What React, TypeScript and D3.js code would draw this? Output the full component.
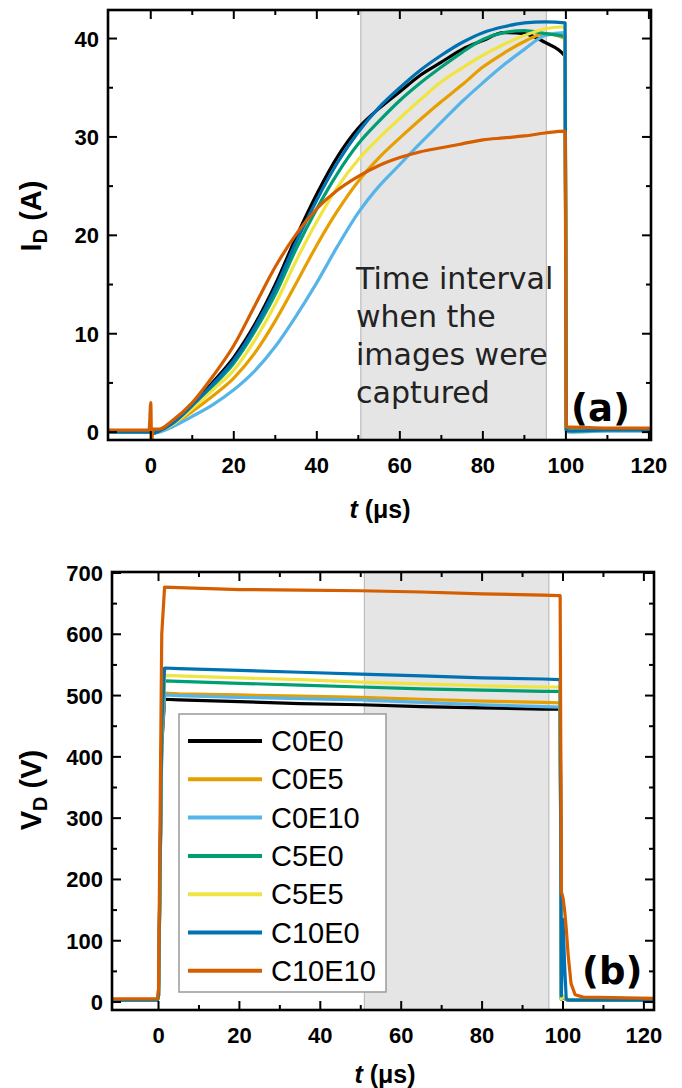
import React from 'react';
import * as d3 from 'd3';

// ---------- data ----------
const seriesNames = ['C0E0', 'C0E5', 'C0E10', 'C5E0', 'C5E5', 'C10E0', 'C10E10'];
const seriesColors = ['#000000', '#E69F00', '#56B4E9', '#009E73', '#F0E442', '#0072B2', '#D55E00'];

// drain current I_D (A)
const tCurrent = [-10.3, -5, -0.4, 0, 0.2, 0.5, 2, 5, 10, 15, 20, 25, 30, 35, 40, 45, 50, 55, 60, 65, 70, 75, 80, 85, 90, 95, 99.8, 100.1, 101, 110, 120.5];
const iC0E0 = [0.1, 0.1, 0.1, 0.1, 0.0, 0.0, 0.2, 0.9, 2.8, 5.1, 7.6, 10.9, 15.0, 19.8, 24.2, 28.0, 30.9, 32.9, 34.6, 36.3, 37.6, 38.9, 39.8, 40.6, 40.5, 39.6, 38.2, 0.3, 0.2, 0.3, 0.3];
const iC0E5 = [0.0, 0.0, 0.0, 0.0, -0.1, -0.1, 0.1, 0.7, 2.1, 3.7, 5.5, 8.0, 11.3, 15.1, 19.0, 22.5, 25.5, 27.9, 29.9, 31.8, 33.6, 35.3, 37.1, 38.5, 39.7, 40.5, 40.0, 0.2, 0.1, 0.2, 0.2];
const iC0E10 = [0.0, 0.0, 0.0, 0.0, -0.1, -0.1, 0.0, 0.5, 1.6, 2.8, 4.3, 6.2, 8.7, 11.8, 15.2, 18.9, 22.3, 25.0, 27.2, 29.4, 31.5, 33.6, 35.5, 37.3, 38.9, 40.3, 40.6, 0.1, 0.0, 0.1, 0.1];
const iC5E0 = [0.0, 0.0, 0.0, 0.0, -0.1, -0.1, 0.1, 0.8, 2.6, 4.7, 7.0, 10.2, 14.0, 18.6, 22.7, 26.3, 29.3, 31.6, 33.7, 35.5, 37.1, 38.6, 39.9, 40.6, 40.8, 40.5, 40.2, 0.2, 0.1, 0.2, 0.2];
const iC5E5 = [0.0, 0.0, 0.0, 0.0, -0.1, -0.1, 0.1, 0.7, 2.4, 4.3, 6.3, 9.3, 13.0, 17.4, 21.4, 24.9, 27.7, 29.9, 31.9, 33.8, 35.6, 37.0, 38.3, 39.4, 40.3, 41.0, 41.2, 0.2, 0.1, 0.2, 0.2];
const iC10E0 = [0.0, 0.0, 0.0, 0.0, -0.1, -0.1, 0.1, 0.8, 2.7, 4.9, 7.3, 10.6, 14.6, 19.3, 23.6, 27.4, 30.5, 33.0, 35.0, 36.8, 38.3, 39.6, 40.6, 41.2, 41.6, 41.7, 41.6, 0.2, 0.1, 0.2, 0.2];
const iC10E10 = [0.2, 0.2, 0.2, 3.0, -1.0, 0.3, 0.3, 1.1, 3.0, 5.7, 8.8, 12.8, 16.8, 20.1, 22.7, 24.6, 26.0, 27.1, 27.9, 28.5, 28.9, 29.3, 29.7, 29.9, 30.1, 30.4, 30.6, 0.5, 0.5, 0.4, 0.4];

// drain voltage V_D (V)
const tVoltage = [-11.5, -0.3, 0.0, 0.8, 1.5, 5, 20, 35, 50, 65, 80, 95, 99.3, 99.6, 100.0, 100.4, 100.8, 101.3, 102, 103, 105, 122.5];
const vC0E0 = [3, 3, 10, 420, 494, 493, 490, 487, 485, 482, 480, 478, 478, 5, 8, 6, 4, 3, 3, 3, 3, 3];
const vC0E5 = [3, 3, 10, 430, 504, 503, 501, 499, 497, 494, 491, 489, 488, 5, 8, 6, 4, 3, 3, 3, 3, 3];
const vC0E10 = [3, 3, 10, 430, 501, 500, 497, 495, 493, 489, 485, 482, 481, 5, 8, 6, 4, 3, 3, 3, 3, 3];
const vC5E0 = [3, 3, 10, 440, 524, 523, 520, 517, 514, 511, 509, 507, 507, 5, 10, 8, 5, 3, 3, 3, 3, 3];
const vC5E5 = [3, 3, 10, 450, 533, 532, 529, 526, 522, 519, 516, 514, 514, 5, 10, 8, 5, 3, 3, 3, 3, 3];
const vC10E0 = [3, 3, 10, 450, 545, 544, 541, 538, 535, 532, 529, 527, 526, 10, 135, 60, 5, 3, 3, 3, 3, 3];
const vC10E10 = [5, 5, 20, 600, 677, 676, 673, 672, 671, 669, 666, 664, 663, 180, 170, 150, 120, 75, 30, 12, 8, 6];

const currentSeries = [iC0E0, iC0E5, iC0E10, iC5E0, iC5E5, iC10E0, iC10E10];
const voltageSeries = [vC0E0, vC0E5, vC0E10, vC5E0, vC5E5, vC10E0, vC10E10];

const xTickMajor = [0, 20, 40, 60, 80, 100, 120];
const xTickMinor = [10, 30, 50, 70, 90, 110];
const iTickMajor = [0, 10, 20, 30, 40];
const iTickMinor = [5, 15, 25, 35];
const vTickMajor = [0, 100, 200, 300, 400, 500, 600, 700];
const vTickMinor = [50, 150, 250, 350, 450, 550, 650];

const shadeTop = [50.6, 95.3];
const shadeBottom = [50.9, 96.5];
const annotationLines = ['Time interval', 'when the', 'images were', 'captured'];

// ---------- layout ----------
const W = 682;
const H = 1088;
const TICK_FONT = "'Liberation Sans', Arial, sans-serif";
const DEJAVU = "'DejaVu Sans', Verdana, sans-serif";

type PanelProps = {
  id: string;
  x: d3.ScaleLinear<number, number>;
  y: d3.ScaleLinear<number, number>;
  t: number[];
  series: number[][];
  yMajor: number[];
  yMinor: number[];
  shade: number[];
  curve: d3.CurveFactory;
  children?: React.ReactNode;
};

function Panel({ id, x, y, t, series, yMajor, yMinor, shade, curve, children }: PanelProps) {
  const [x0, x1] = x.range();
  const [y1, y0] = y.range();
  const line = (vals: number[]) =>
    d3
      .line<number>()
      .x((_, i) => x(t[i]))
      .y((v) => y(v))
      .curve(curve)(vals) || '';
  const major = 9;
  const minor = 5;
  return (
    <g>
      <defs>
        <clipPath id={id}>
          <rect x={x0} y={y0} width={x1 - x0} height={y1 - y0} />
        </clipPath>
      </defs>
      <rect
        x={x(shade[0])}
        y={y0}
        width={x(shade[1]) - x(shade[0])}
        height={y1 - y0}
        fill="#e5e5e5"
        stroke="#bdbdbd"
        strokeWidth={1.2}
      />
      <g clipPath={`url(#${id})`}>
        {series.map((vals, k) => (
          <path key={k} d={line(vals)} fill="none" stroke={seriesColors[k]} strokeWidth={3.2} strokeLinejoin="round" />
        ))}
      </g>
      {children}
      <g stroke="#000" strokeWidth={2}>
        {xTickMajor.map((v) => (
          <g key={'xm' + v}>
            <line x1={x(v)} x2={x(v)} y1={y1} y2={y1 - major} />
            <line x1={x(v)} x2={x(v)} y1={y0} y2={y0 + major} />
          </g>
        ))}
        {xTickMinor.map((v) => (
          <g key={'xn' + v}>
            <line x1={x(v)} x2={x(v)} y1={y1} y2={y1 - minor} />
            <line x1={x(v)} x2={x(v)} y1={y0} y2={y0 + minor} />
          </g>
        ))}
        {yMajor.map((v) => (
          <g key={'ym' + v}>
            <line x1={x0} x2={x0 + major} y1={y(v)} y2={y(v)} />
            <line x1={x1} x2={x1 - major} y1={y(v)} y2={y(v)} />
          </g>
        ))}
        {yMinor.map((v) => (
          <g key={'yn' + v}>
            <line x1={x0} x2={x0 + minor} y1={y(v)} y2={y(v)} />
            <line x1={x1} x2={x1 - minor} y1={y(v)} y2={y(v)} />
          </g>
        ))}
      </g>
      <rect x={x0} y={y0} width={x1 - x0} height={y1 - y0} fill="none" stroke="#000" strokeWidth={2.6} />
      <g fontFamily={TICK_FONT} fontWeight="bold" fontSize={22} fill="#000">
        {xTickMajor.map((v) => (
          <text key={'xl' + v} x={x(v)} y={y1 + 33} textAnchor="middle">
            {v}
          </text>
        ))}
        {yMajor.map((v) => (
          <text key={'yl' + v} x={x0 - 9} y={y(v) + 8} textAnchor="end">
            {v}
          </text>
        ))}
      </g>
    </g>
  );
}

export default function App() {
  const xTop = d3.scaleLinear().domain([-10.3, 120.5]).range([108, 651]);
  const yTop = d3.scaleLinear().domain([-0.8, 42.9]).range([440, 10]);
  const xBot = d3.scaleLinear().domain([-11.5, 122.5]).range([112, 654]);
  const yBot = d3.scaleLinear().domain([-13, 701.6]).range([1010, 572]);

  const legendX = 179;
  const legendY = 714;
  const legendRow = 38.3;

  return (
    <svg
      width={W}
      height={H}
      viewBox={`0 0 ${W} ${H}`}
      style={{ position: 'absolute', left: 0, top: 0, background: '#fff' }}
    >
      <rect x={0} y={0} width={W} height={H} fill="#fff" />
      <Panel
        id="clipTop"
        x={xTop}
        y={yTop}
        t={tCurrent}
        series={currentSeries}
        yMajor={iTickMajor}
        yMinor={iTickMinor}
        shade={shadeTop}
        curve={d3.curveMonotoneX}
      >
        <g fontFamily={DEJAVU} fontSize={30} fill="#222">
          {annotationLines.map((s, i) => (
            <text key={s} x={356} y={289 + i * 38}>
              {s}
            </text>
          ))}
        </g>
        <text x={571} y={421} fontFamily={DEJAVU} fontWeight="bold" fontSize={37}>
          (a)
        </text>
      </Panel>

      <Panel
        id="clipBot"
        x={xBot}
        y={yBot}
        t={tVoltage}
        series={voltageSeries}
        yMajor={vTickMajor}
        yMinor={vTickMinor}
        shade={shadeBottom}
        curve={d3.curveLinear}
      >
        <rect x={legendX} y={legendY} width={207} height={278} fill="#fff" stroke="#9a9a9a" strokeWidth={1.5} />
        {seriesNames.map((name, i) => (
          <g key={name}>
            <line
              x1={legendX + 9}
              x2={legendX + 83}
              y1={legendY + 27 + i * legendRow}
              y2={legendY + 27 + i * legendRow}
              stroke={seriesColors[i]}
              strokeWidth={4}
            />
            <text
              x={legendX + 92}
              y={legendY + 37 + i * legendRow}
              fontFamily={TICK_FONT}
              fontSize={29}
              fill="#000"
            >
              {name}
            </text>
          </g>
        ))}
        <text x={582} y={984} fontFamily={DEJAVU} fontWeight="bold" fontSize={37}>
          (b)
        </text>
      </Panel>

      <g fontFamily={TICK_FONT} fontWeight="bold" fontSize={25} fill="#000">
        <text x={380} y={518} textAnchor="middle">
          <tspan fontStyle="italic">t</tspan>
          <tspan> (μs)</tspan>
        </text>
        <text x={385} y={1083} textAnchor="middle">
          <tspan fontStyle="italic">t</tspan>
          <tspan> (μs)</tspan>
        </text>
      </g>
      <g fontFamily={TICK_FONT} fontWeight="bold" fontSize={29} fill="#000">
        <text transform="translate(41,216) rotate(-90)" textAnchor="middle">
          <tspan>I</tspan>
          <tspan fontSize={20} dy={6}>D</tspan>
          <tspan dy={-6}> (A)</tspan>
        </text>
        <text transform="translate(41,790) rotate(-90)" textAnchor="middle">
          <tspan>V</tspan>
          <tspan fontSize={20} dy={6}>D</tspan>
          <tspan dy={-6}> (V)</tspan>
        </text>
      </g>
    </svg>
  );
}
